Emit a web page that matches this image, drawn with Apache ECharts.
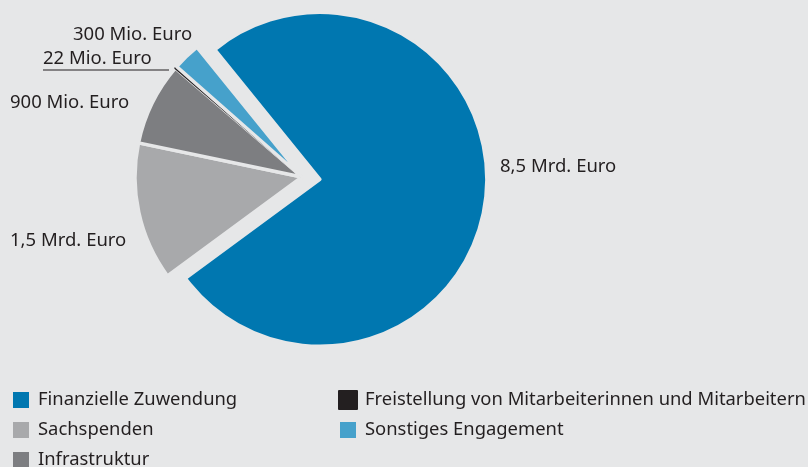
<!DOCTYPE html>
<html>
<head>
<meta charset="utf-8">
<script src="https://cdn.jsdelivr.net/npm/echarts@6/dist/echarts.min.js"></script>
<style>
  html, body { margin: 0; padding: 0; background: #e6e7e8; }
  #chart0 { width: 808px; height: 467px; }
</style>
</head>
<body>
<div id="chart0"></div>
<script>
var categories = ['Finanzielle Zuwendung', 'Sachspenden', 'Infrastruktur',
  'Freistellung von Mitarbeiterinnen und Mitarbeitern', 'Sonstiges Engagement']
var valuesMio = [8500, 1500, 900, 22, 300]
var valueLabels = ['8,5 Mrd. Euro', '1,5 Mrd. Euro', '900 Mio. Euro', '22 Mio. Euro', '300 Mio. Euro']

var colors = ['#0077b0', '#a8a9ab', '#7d7e81', '#231f20', '#46a1cb']
var labelPos = [[500, 167], [10, 241], [10, 103], [43, 59], [73, 35]]
var bg = '#e6e7e8'

var chart0 = echarts.init(document.getElementById('chart0'))
var font = '"Noto Sans", sans-serif'
var textColor = '#231f20'

var pieData = categories.map(function (c, i) {
  var item = {
    name: c,
    value: valuesMio[i],
    itemStyle: { color: colors[i], borderColor: bg, borderWidth: 3.5 },
    labelLine: { show: i === 3 }
  }
  if (i === 0) {
    // pulled-out slice: its label is drawn by the graphic below
    item.selected = true
    item.label = { show: false }
  }
  if (i === 3) item.itemStyle = { color: colors[i], borderColor: colors[i], borderWidth: 2 }
  return item
})

var legendBase = {
  orient: 'vertical',
  top: 390,
  height: 100,
  padding: 0,
  itemWidth: 18,
  itemHeight: 18,
  itemGap: 10,
  icon: 'rect',
  selectedMode: false,
  textStyle: { fontFamily: font, fontSize: 18.4, color: textColor, padding: [0, 0, 0, 3] }
}

var option0 = {
  backgroundColor: bg,
  animation: false,
  legend: [
    Object.assign({}, legendBase, { left: 11, data: categories.slice(0, 3) }),
    Object.assign({}, legendBase, { left: 338, data: categories.slice(3) })
  ],
  graphic: [{
    type: 'text',
    x: labelPos[0][0],
    y: labelPos[0][1],
    style: {
      text: valueLabels[0],
      font: '18.5px ' + font,
      fill: textColor,
      textAlign: 'left',
      textVerticalAlign: 'middle'
    }
  }],
  series: [{
    type: 'pie',
    center: [302, 177],
    radius: [0, 167],
    startAngle: 129,
    clockwise: true,
    selectedMode: 'single',
    selectedOffset: 18,
    avoidLabelOverlap: false,
    emphasis: { disabled: true },
    label: {
      show: true,
      fontFamily: font,
      fontSize: 18.5,
      color: textColor,
      formatter: function (p) { return valueLabels[p.dataIndex] }
    },
    labelLine: {
      show: false,
      lineStyle: { color: textColor, width: 1 }
    },
    labelLayout: function (p) {
      var pos = labelPos[p.dataIndex]
      var out = { x: pos[0], y: pos[1], align: 'left', verticalAlign: 'middle' }
      if (p.dataIndex === 3) {
        out.labelLinePoints = [[169, 70], [120, 70], [43, 70]]
      }
      return out
    },
    data: pieData
  }]
}

chart0.setOption(option0)
</script>
</body>
</html>
